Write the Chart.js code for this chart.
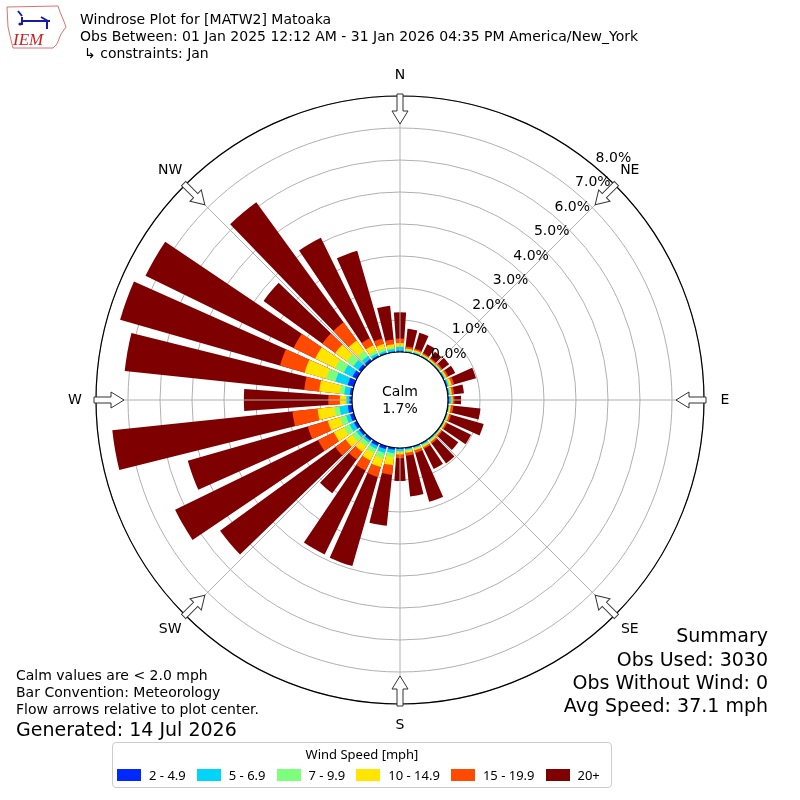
<!DOCTYPE html>
<html>
<head>
<meta charset="utf-8">
<script src="https://cdn.jsdelivr.net/npm/chart.js@4.4.1/dist/chart.umd.min.js"></script>
<style>
  body { margin: 0; background: #fff; }
  #wrap { position: relative; width: 800px; height: 800px; font-family: "DejaVu Sans", sans-serif; color: #000; }
  #rose { position: absolute; left: 0; top: 0; }
  .txt { position: absolute; white-space: nowrap; }
  .t14 { font-size: 14px; line-height: 17px; }
  .t19 { font-size: 19px; line-height: 22px; }
  .right { text-align: right; }
  #legend {
    position: absolute; left: 112px; top: 742px; width: 498px; height: 44px;
    border: 1px solid #cccccc; border-radius: 4px; font-family: "Noto Sans", sans-serif; font-size: 13px;
  }
  #legend .title { position: absolute; left: 0; right: 0; top: 2px; text-align: center; line-height: 18px; }
  #legend .items { position: absolute; left: 4px; top: 23px; display: flex; align-items: center; line-height: 18px; white-space: nowrap; }
  #legend .item { display: flex; align-items: center; margin-right: 11px; white-space: nowrap; flex: none; }
  #legend .sw { width: 24px; height: 12px; margin-right: 8px; flex: none; }
</style>
</head>
<body>
<div id="wrap">
  <canvas id="rose" width="800" height="800"></canvas>

  <svg class="txt" style="left:0;top:0" width="68" height="52" viewBox="0 0 68 52">
    <path d="M7 7 L58 6 L60 12 L63 19 L66 27 L61 34 L57 44 L53 48 L13 48 L11 40 L8 27 Z"
          fill="none" stroke="#e07070" stroke-width="1"/>
    <path d="M18 11 L22 16 M22 21 L50 21 M22 17 L22 25 M41 17 L48 21 M47 21 L47 29" stroke="#1a1aa8" stroke-width="2" fill="none"/>
    <circle cx="20" cy="24" r="1.6" fill="#1a1aa8"/>
    <text x="13" y="45" font-family="Liberation Serif" font-style="italic" font-size="17" fill="#cc2020">IEM</text>
  </svg>

  <div class="txt t14" style="left:80px;top:11px">Windrose Plot for [MATW2] Matoaka</div>
  <div class="txt t14" style="left:80px;top:28px">Obs Between: 01 Jan 2025 12:12 AM - 31 Jan 2026 04:35 PM America/New_York</div>
  <div class="txt t14" style="left:84px;top:45px">↳ constraints: Jan</div>

  <div class="txt t14" style="left:16px;top:667px">Calm values are &lt; 2.0 mph</div>
  <div class="txt t14" style="left:16px;top:684px">Bar Convention: Meteorology</div>
  <div class="txt t14" style="left:16px;top:701px">Flow arrows relative to plot center.</div>
  <div class="txt t19" style="left:16px;top:718px">Generated: 14 Jul 2026</div>

  <div class="txt t19 right" style="right:32px;top:624px">Summary</div>
  <div class="txt t19 right" style="right:32px;top:648px">Obs Used: 3030</div>
  <div class="txt t19 right" style="right:32px;top:671px">Obs Without Wind: 0</div>
  <div class="txt t19 right" style="right:32px;top:694px">Avg Speed: 37.1 mph</div>

  <div id="legend">
    <div class="title">Wind Speed [mph]</div>
    <div class="items" id="legendItems"></div>
  </div>
</div>

<script>
// Direction the wind blows from, degrees clockwise from north
const DIRECTIONS = [0, 10, 20, 30, 40, 50, 60, 70, 80, 90, 100, 110, 120, 130, 140, 150, 160, 170,
                    180, 190, 200, 210, 220, 230, 240, 250, 260, 270, 280, 290, 300, 310, 320, 330, 340, 350];

const SPEED_BINS = ['2 - 4.9', '5 - 6.9', '7 - 9.9', '10 - 14.9', '15 - 19.9', '20+'];

// Percent of observations per direction, one array per speed bin
const bin2to5 = [0.04, 0.02, 0.02, 0.02, 0.01, 0.02, 0.03, 0.04, 0.03, 0.04,
                 0.02, 0.02, 0.02, 0.02, 0.02, 0.03, 0.03, 0.03, 0.03,
                 0.06, 0.10, 0.10, 0.07, 0.08, 0.10, 0.12, 0.14, 0.08,
                 0.08, 0.20, 0.15, 0.10, 0.08, 0.05, 0.04, 0.03];
const bin5to7 = [0.12, 0.03, 0.03, 0.02, 0.02, 0.02, 0.03, 0.04, 0.03, 0.06,
                 0.02, 0.02, 0.02, 0.02, 0.03, 0.03, 0.03, 0.03, 0.07,
                 0.11, 0.12, 0.10, 0.08, 0.10, 0.15, 0.13, 0.26, 0.09,
                 0.17, 0.40, 0.30, 0.20, 0.12, 0.07, 0.06, 0.07];
const bin7to10 = [0.03, 0.02, 0.03, 0.02, 0.02, 0.02, 0.02, 0.04, 0.03, 0.02,
                  0.02, 0.02, 0.02, 0.02, 0.03, 0.04, 0.03, 0.04, 0.03,
                  0.13, 0.18, 0.15, 0.15, 0.17, 0.20, 0.20, 0.16, 0.03,
                  0.15, 0.30, 0.30, 0.25, 0.20, 0.10, 0.08, 0.05];
const bin10to15 = [0.09, 0.05, 0.04, 0.03, 0.03, 0.03, 0.04, 0.06, 0.04, 0.03,
                   0.04, 0.04, 0.03, 0.03, 0.04, 0.04, 0.05, 0.06, 0.07,
                   0.25, 0.28, 0.25, 0.20, 0.25, 0.35, 0.40, 0.53, 0.18,
                   0.64, 0.70, 0.70, 0.45, 0.40, 0.18, 0.14, 0.10];
const bin15to20 = [0.14, 0.06, 0.05, 0.04, 0.04, 0.05, 0.06, 0.08, 0.07, 0.05,
                   0.08, 0.06, 0.05, 0.05, 0.06, 0.06, 0.08, 0.09, 0.12,
                   0.30, 0.32, 0.35, 0.30, 0.40, 0.55, 0.65, 0.79, 0.36,
                   0.47, 0.80, 0.75, 0.50, 0.70, 0.25, 0.18, 0.15];
const bin20plus = [0.82, 0.56, 0.52, 0.31, 0.24, 0.26, 0.24, 0.71, 0.31, 0.21,
                   0.85, 1.06, 0.83, 0.61, 0.77, 0.70, 1.59, 1.28, 0.71,
                   1.60, 2.90, 2.92, 1.30, 4.45, 4.97, 3.90, 5.66, 2.64,
                   5.64, 5.20, 5.15, 2.27, 4.64, 3.49, 2.85, 1.06];

const CALM_PCT = 1.7;
const RING_TICKS = [0, 1, 2, 3, 4, 5, 6, 7, 8];
const COMPASS = ['N', 'NE', 'E', 'SE', 'S', 'SW', 'W', 'NW'];

const binColors = ['#0028ff', '#00d4f8', '#7dff7d', '#ffe500', '#ff4a00', '#7f0000'];
const gridColor = '#b0b0b0';
const BAR_DEG = 8;   // bar opening, rest of the 10 degree sector is a gap

// legend
const legendItems = document.getElementById('legendItems');
SPEED_BINS.forEach((lab, i) => {
    const it = document.createElement('div');
    it.className = 'item';
    it.innerHTML = '<span class="sw" style="background:' + binColors[i] + '"></span><span>' + lab + '</span>';
    legendItems.appendChild(it);
});

// each direction gets a bar slot and a gap slot
const slotLabels = [];
DIRECTIONS.forEach(d => { slotLabels.push(d + '°'); slotLabels.push(''); });
const sectorDeg = 360 / DIRECTIONS.length;

// stacked look: dataset k holds the running total up to bin k, small totals drawn last (on top)
const bins = [bin2to5, bin5to7, bin7to10, bin10to15, bin15to20, bin20plus];
const datasets = bins.map((_, k) => {
    const data = [];
    DIRECTIONS.forEach((d, i) => {
        let sum = 0;
        for (let j = 0; j <= k; j++) sum += bins[j][i];
        data.push(+sum.toFixed(3));
        data.push(null);
    });
    return {
        label: SPEED_BINS[k],
        data: data,
        backgroundColor: binColors[k],
        borderWidth: 0,
        angle: c => (c.dataIndex % 2 === 0 ? BAR_DEG : sectorDeg - BAR_DEG)
    };
});

function toRad(deg) { return deg * Math.PI / 180; }

const roseDecor = {
    id: 'roseDecor',
    afterDraw(chart) {
        const s = chart.scales.r;
        const ctx = chart.ctx;
        const cx = s.xCenter, cy = s.yCenter;
        const r0 = s.getDistanceFromCenterForValue(0);
        const rMax = s.getDistanceFromCenterForValue(s.max);
        ctx.save();

        // spokes every 45 degrees
        ctx.strokeStyle = gridColor;
        ctx.lineWidth = 1;
        for (let a = 0; a < 360; a += 45) {
            const sn = Math.sin(toRad(a)), cs = Math.cos(toRad(a));
            ctx.beginPath();
            ctx.moveTo(cx + r0 * sn, cy - r0 * cs);
            ctx.lineTo(cx + rMax * sn, cy - rMax * cs);
            ctx.stroke();
        }

        // outer frame
        ctx.strokeStyle = '#000';
        ctx.lineWidth = 1.2;
        ctx.beginPath();
        ctx.arc(cx, cy, rMax, 0, Math.PI * 2);
        ctx.stroke();

        // calm disc
        ctx.fillStyle = '#fff';
        ctx.lineWidth = 1.2;
        ctx.beginPath();
        ctx.arc(cx, cy, r0, 0, Math.PI * 2);
        ctx.fill();
        ctx.stroke();
        ctx.fillStyle = '#000';
        ctx.font = '14px "DejaVu Sans"';
        ctx.textAlign = 'center';
        ctx.textBaseline = 'middle';
        ctx.fillText('Calm', cx, cy - 8);
        ctx.fillText(CALM_PCT.toFixed(1) + '%', cx, cy + 9);

        // ring labels along 40 degrees
        const la = toRad(40);
        RING_TICKS.forEach(v => {
            const rr = s.getDistanceFromCenterForValue(v);
            ctx.fillText(v.toFixed(1) + '%', cx + rr * Math.sin(la) + 18, cy - rr * Math.cos(la) - 9);
        });

        // compass labels and flow arrows
        COMPASS.forEach((lab, i) => {
            const a = toRad(i * 45);
            ctx.fillStyle = '#000';
            ctx.fillText(lab, cx + (rMax + 21) * Math.sin(a), cy - (rMax + 21) * Math.cos(a));

            ctx.save();
            ctx.translate(cx, cy);
            ctx.rotate(a);
            const tail = rMax + 2, tip = rMax - 28, base = tip + 13;
            ctx.beginPath();
            ctx.moveTo(0, -tip);
            ctx.lineTo(8, -base);
            ctx.lineTo(3, -base);
            ctx.lineTo(3, -tail);
            ctx.lineTo(-3, -tail);
            ctx.lineTo(-3, -base);
            ctx.lineTo(-8, -base);
            ctx.closePath();
            ctx.fillStyle = '#fff';
            ctx.fill();
            ctx.strokeStyle = '#333';
            ctx.lineWidth = 1;
            ctx.stroke();
            ctx.restore();
        });

        ctx.restore();
    }
};

new Chart(document.getElementById('rose'), {
    type: 'polarArea',
    data: { labels: slotLabels, datasets: datasets },
    options: {
        responsive: false,
        animation: false,
        events: [],
        layout: { padding: 96 },
        plugins: {
            legend: { display: false },
            tooltip: { enabled: false }
        },
        scales: {
            r: {
                min: -1.5,
                max: 8,
                startAngle: -BAR_DEG / 2,
                z: 1,
                ticks: { display: false, stepSize: 1 },
                afterBuildTicks: scale => { scale.ticks = RING_TICKS.map(v => ({ value: v })); },
                grid: { color: gridColor, lineWidth: 1, circular: true },
                angleLines: { display: false },
                pointLabels: { display: false }
            }
        }
    },
    plugins: [roseDecor]
});
</script>
</body>
</html>
